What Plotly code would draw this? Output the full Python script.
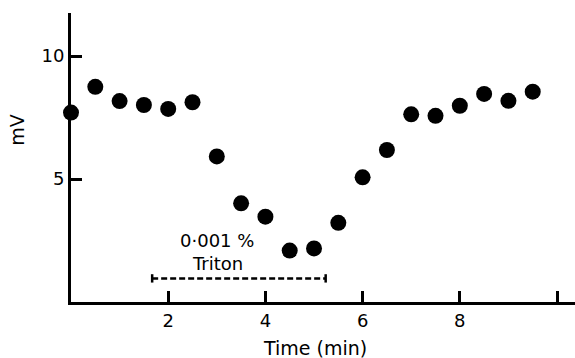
import plotly.graph_objects as go

# Data
time_min = [0.0, 0.5, 1.0, 1.5, 2.0, 2.5, 3.0, 3.5, 4.0, 4.5, 5.0, 5.5, 6.0, 6.5, 7.0, 7.5, 8.0, 8.5, 9.0, 9.5]
mv = [7.7, 8.75, 8.17, 8.01, 7.85, 8.12, 5.92, 4.01, 3.47, 2.09, 2.18, 3.22, 5.07, 6.18, 7.63, 7.57, 7.98, 8.46, 8.18, 8.55]

x_tickvals = [2, 4, 6, 8, 10]
x_ticktext = ["2", "4", "6", "8", ""]
y_tickvals = [5, 10]
y_ticktext = ["5", "10"]

triton_start = 1.67
triton_end = 5.24
triton_level = 0.96
triton_cap = 0.17
triton_label = ["0·001 %", "Triton"]

FONT = "DejaVu Sans"

fig = go.Figure()

fig.add_trace(go.Scatter(
    x=time_min, y=mv, mode="markers",
    marker=dict(color="black", size=16, line=dict(width=0)),
    cliponaxis=False, showlegend=False, hoverinfo="skip"))

# Triton bar (dashed) with end caps
fig.add_trace(go.Scatter(
    x=[triton_start, triton_end], y=[triton_level, triton_level], mode="lines",
    line=dict(color="black", width=2.5, dash="6px,3px"),
    showlegend=False, hoverinfo="skip"))
for xc in (triton_start, triton_end):
    fig.add_trace(go.Scatter(
        x=[xc, xc], y=[triton_level - triton_cap, triton_level + triton_cap], mode="lines",
        line=dict(color="black", width=2.5), showlegend=False, hoverinfo="skip"))

mid = (triton_start + triton_end) / 2
fig.add_annotation(x=mid - 0.45, y=triton_level, yshift=38, text=triton_label[0],
                   showarrow=False, font=dict(family=FONT, size=18, color="black"))
fig.add_annotation(x=mid - 0.45, y=triton_level, yshift=15, text=triton_label[1],
                   showarrow=False, font=dict(family=FONT, size=18, color="black"))

# Axis titles
fig.add_annotation(x=5.02, y=0, yref="y", yshift=-46, text="Time (min)", showarrow=False,
                   font=dict(family=FONT, size=19, color="black"))
fig.add_annotation(x=0, y=7.0, xshift=-54, text="mV", textangle=-90, showarrow=False,
                   font=dict(family=FONT, size=19, color="black"))

fig.update_layout(
    width=575, height=358,
    margin=dict(l=71, r=0, t=13, b=56),
    paper_bgcolor="white", plot_bgcolor="white",
    font=dict(family=FONT, size=18, color="black"),
)
fig.update_xaxes(range=[0, 10.37], showgrid=False, zeroline=False,
                 showline=True, linecolor="black", linewidth=3,
                 ticks="inside", ticklen=11, tickwidth=2.5, tickcolor="black",
                 tickvals=x_tickvals, ticktext=x_ticktext,
                 tickfont=dict(family=FONT, size=18, color="black"))
fig.update_yaxes(range=[0, 11.75], showgrid=False, zeroline=False,
                 showline=True, linecolor="black", linewidth=3,
                 ticks="inside", ticklen=11, tickwidth=2.5, tickcolor="black",
                 tickvals=y_tickvals, ticktext=y_ticktext,
                 tickfont=dict(family=FONT, size=18, color="black"))

fig.write_html("out.html")
